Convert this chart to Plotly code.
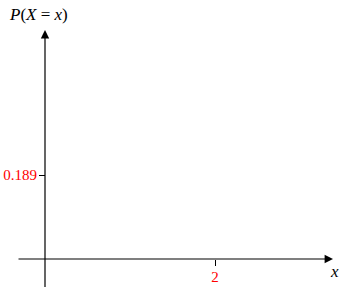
import plotly.graph_objects as go

# Data
x_ticks = [2]
x_tick_labels = ["2"]
y_ticks = [0.189]
y_tick_labels = ["0.189"]

W, H = 341, 287
# pixel geometry of the axes in the reference
x0_px, y0_px = 45, 259
px_per_x = (215 - 45) / 2.0
px_per_y = (259 - 175) / 0.189

x_range = [-x0_px / px_per_x, (W - x0_px) / px_per_x]
y_range = [-(H - y0_px) / px_per_y, y0_px / px_per_y]

serif = "'Times New Roman', 'Liberation Serif', 'DejaVu Serif', serif"

fig = go.Figure()
fig.add_trace(go.Scatter(x=[], y=[], mode="markers", showlegend=False))

fig.update_layout(
    width=W, height=H,
    margin=dict(l=0, r=0, t=0, b=0),
    paper_bgcolor="white", plot_bgcolor="white",
    showlegend=False,
    font=dict(family=serif),
    xaxis=dict(
        range=x_range, showgrid=False, zeroline=False, showline=False,
        tickvals=x_ticks, ticktext=x_tick_labels,
        ticks="outside", ticklen=6, tickwidth=1.2, tickcolor="black",
        tickfont=dict(family=serif, size=15, color="red"),
        ticklabelstandoff=-2,
        anchor="free", position=(H - y0_px) / H,
        fixedrange=True,
    ),
    yaxis=dict(
        range=y_range, showgrid=False, zeroline=False, showline=False,
        tickvals=y_ticks, ticktext=y_tick_labels,
        ticks="outside", ticklen=6, tickwidth=1.2, tickcolor="black",
        tickfont=dict(family=serif, size=15, color="red"),
        ticklabelstandoff=-1,
        anchor="free", position=x0_px / W,
        fixedrange=True,
    ),
)

# axis arrows
x_start, x_tip = (17 - x0_px) / px_per_x, (333 - x0_px) / px_per_x
y_start, y_tip = y_range[0] - 0.01, (y0_px - 30) / px_per_y
fig.add_annotation(x=x_tip, y=0, ax=x_start, ay=0, xref="x", yref="y",
                   axref="x", ayref="y", showarrow=True, arrowhead=2,
                   arrowsize=1.4, arrowwidth=1.2, arrowcolor="black", text="")
fig.add_annotation(x=0, y=y_tip, ax=0, ay=y_start, xref="x", yref="y",
                   axref="x", ayref="y", showarrow=True, arrowhead=2,
                   arrowsize=1.4, arrowwidth=1.2, arrowcolor="black", text="")

# axis titles
fig.add_annotation(x=38 / W, y=1 - 14 / H, xref="paper", yref="paper",
                   text="<i>P</i>(<i>X</i> = <i>x</i>)", showarrow=False,
                   font=dict(family=serif, size=17, color="black"),
                   xanchor="center", yanchor="middle")
fig.add_annotation(x=334 / W, y=1 - 271 / H, xref="paper", yref="paper",
                   text="<i>x</i>", showarrow=False,
                   font=dict(family=serif, size=17, color="black"),
                   xanchor="center", yanchor="middle")

fig.write_html("out.html")
